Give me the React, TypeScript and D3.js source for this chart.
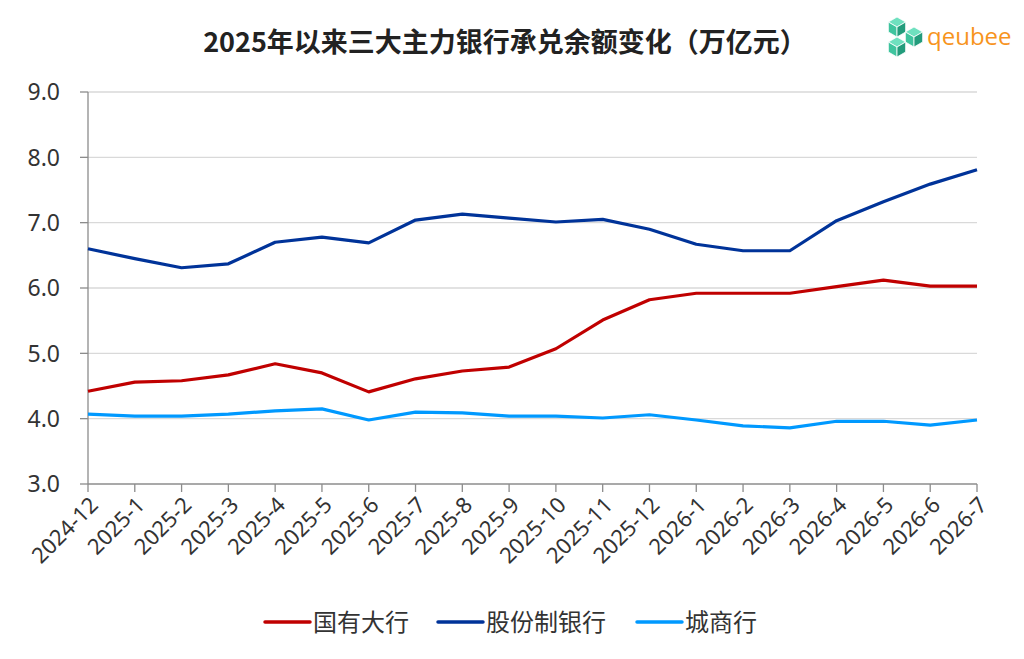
import React from 'react'
import * as d3 from 'd3'

const months = [
  '2024-12', '2025-1', '2025-2', '2025-3', '2025-4', '2025-5', '2025-6', '2025-7',
  '2025-8', '2025-9', '2025-10', '2025-11', '2025-12', '2026-1', '2026-2', '2026-3',
  '2026-4', '2026-5', '2026-6', '2026-7'
]

// 国有大行
const stateBanks = [4.42, 4.56, 4.58, 4.67, 4.84, 4.70, 4.41, 4.61, 4.73, 4.79, 5.07, 5.51, 5.82, 5.92, 5.92, 5.92, 6.02, 6.12, 6.03, 6.03]
// 股份制银行
const jointStock = [6.60, 6.45, 6.31, 6.37, 6.70, 6.78, 6.69, 7.04, 7.13, 7.07, 7.01, 7.05, 6.90, 6.67, 6.57, 6.57, 7.03, 7.32, 7.59, 7.81]
// 城商行
const cityBanks = [4.07, 4.04, 4.04, 4.07, 4.12, 4.15, 3.98, 4.10, 4.09, 4.04, 4.04, 4.01, 4.06, 3.98, 3.89, 3.86, 3.96, 3.96, 3.90, 3.98]

const yTicks = [3, 4, 5, 6, 7, 8, 9]

const seriesNames = ['国有大行', '股份制银行', '城商行']
const seriesColors = ['#C00000', '#003399', '#0099FF']

const width = 1024
const height = 659
const margin = { top: 92, right: 47, bottom: 175, left: 88 }

const font = '"Noto Sans", "Noto Sans CJK SC", sans-serif'
const cjk = '"Noto Sans CJK SC", sans-serif'

export default function App() {
  const x = d3.scaleLinear()
    .domain([0, months.length - 1])
    .range([margin.left, width - margin.right])

  const y = d3.scaleLinear()
    .domain([3, 9])
    .range([height - margin.bottom, margin.top])

  const line = d3.line<number>()
    .x((_, i) => x(i))
    .y(d => y(d))

  const allSeries = [stateBanks, jointStock, cityBanks]
  const baseY = y(3)

  const legendItems = [
    { x: 265, w: 45 },
    { x: 438, w: 45 },
    { x: 637, w: 45 },
  ]

  // 立方体 logo 的一个六边形
  const cube = (cx: number, cy: number, r: number, key: string) => {
    const h = r * Math.sqrt(3) / 2
    const top = `${cx},${cy - r} ${cx + h},${cy - r / 2} ${cx},${cy} ${cx - h},${cy - r / 2}`
    const left = `${cx - h},${cy - r / 2} ${cx},${cy} ${cx},${cy + r} ${cx - h},${cy + r / 2}`
    const right = `${cx + h},${cy - r / 2} ${cx + h},${cy + r / 2} ${cx},${cy + r} ${cx},${cy}`
    return (
      <g key={key}>
        <polygon points={top} fill="#6FE0BF" stroke="#fff" strokeWidth={0.8} />
        <polygon points={left} fill="#3FC49E" stroke="#fff" strokeWidth={0.8} />
        <polygon points={right} fill="#239C7C" stroke="#fff" strokeWidth={0.8} />
      </g>
    )
  }

  return (
    <svg width={width} height={height} style={{ position: 'absolute', left: 0, top: 0, background: '#fff' }}>
      {/* 标题 */}
      <text
        x={505}
        y={52}
        textAnchor="middle"
        fontFamily={cjk}
        fontWeight="bold"
        fontSize={27}
        fill="#222"
      >
        2025年以来三大主力银行承兑余额变化（万亿元）
      </text>

      {/* logo */}
      <g>
        {cube(897, 27, 10, 'a')}
        {cube(914, 37, 10, 'b')}
        {cube(897, 47, 10, 'c')}
        <text x={927} y={45} fontFamily='"Open Sans", sans-serif' fontSize={24} fill="#F7941D">qeubee</text>
      </g>

      {/* 网格线 */}
      {yTicks.filter(t => t > 3).map(t => (
        <line key={t} x1={margin.left} x2={width - margin.right} y1={y(t)} y2={y(t)} stroke="#D9D9D9" strokeWidth={1.3} />
      ))}

      {/* Y 轴 */}
      <line x1={margin.left} x2={margin.left} y1={margin.top} y2={baseY} stroke="#8C8C8C" strokeWidth={1.3} />
      {yTicks.map(t => (
        <g key={t}>
          <line x1={margin.left - 8} x2={margin.left} y1={y(t)} y2={y(t)} stroke="#8C8C8C" strokeWidth={1.3} />
          <text x={60} y={y(t)} dy="0.36em" textAnchor="end" fontFamily={font} fontSize={23} fill="#333">
            {t.toFixed(1)}
          </text>
        </g>
      ))}

      {/* X 轴 */}
      <line x1={margin.left} x2={width - margin.right} y1={baseY} y2={baseY} stroke="#8C8C8C" strokeWidth={1.3} />
      {months.map((m, i) => (
        <g key={m}>
          <line x1={x(i)} x2={x(i)} y1={baseY} y2={baseY + 8} stroke="#8C8C8C" strokeWidth={1.3} />
          <text
            transform={`translate(${x(i) + 6},${baseY + 17}) rotate(-45)`}
            textAnchor="end"
            dy="0.35em"
            fontFamily={font}
            fontSize={22}
            fill="#333"
          >
            {m}
          </text>
        </g>
      ))}

      {/* 折线 */}
      {allSeries.map((s, k) => (
        <path key={k} d={line(s) || ''} fill="none" stroke={seriesColors[k]} strokeWidth={3.2} strokeLinejoin="round" />
      ))}

      {/* 图例 */}
      {seriesNames.map((name, k) => (
        <g key={name}>
          <line
            x1={legendItems[k].x}
            x2={legendItems[k].x + legendItems[k].w}
            y1={622}
            y2={622}
            stroke={seriesColors[k]}
            strokeWidth={3.5}
            strokeLinecap="round"
          />
          <text
            x={legendItems[k].x + legendItems[k].w + 3}
            y={622}
            dy="0.36em"
            fontFamily={cjk}
            fontSize={24}
            fill="#333"
          >
            {name}
          </text>
        </g>
      ))}
    </svg>
  )
}
